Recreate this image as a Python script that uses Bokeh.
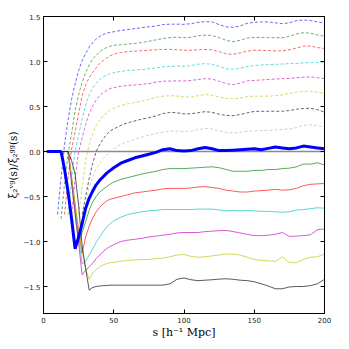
import math
from bokeh.plotting import figure
from bokeh.models import Span, LinearAxis, FixedTicker, Range1d, ColumnDataSource, CustomLabelingPolicy
from bokeh.embed import file_html
from bokeh.resources import INLINE

N = float("nan")

# separation grid s [h^-1 Mpc]
s = [2.5, 5, 7.5, 10, 12.5, 15, 17.5, 20, 22.5, 25, 27.5, 30, 32.5, 35, 37.5, 40, 42.5, 45, 47.5, 50,
     55, 60, 65, 70, 75, 80, 85, 90, 95, 100, 105, 110, 115, 120, 125, 130, 135, 140, 145, 150,
     155, 160, 165, 170, 175, 180, 185, 190, 195, 200]

# thick blue reference curve
thick_blue = [0, 0, 0, 0, 0, -0.2, -0.45, -0.75, -1.08, -0.95, -0.8, -0.63, -0.52, -0.44, -0.37, -0.32, -0.28, -0.24, -0.21, -0.18,
              -0.13, -0.1, -0.07, -0.05, -0.03, -0.01, 0.02, 0.03, 0.01, 0.005, 0.01, 0.03, 0.045, 0.03, 0.01, 0.01, 0.015, 0.02, 0.025, 0.03,
              0.02, 0.035, 0.05, 0.04, 0.03, 0.04, 0.06, 0.05, 0.04, 0.03]

# solid curves
solid_green = [0, 0, 0, 0, 0, 0, 0, -0.35, -0.7, -1.02, -0.9, -0.78, -0.65, -0.56, -0.5, -0.45, -0.42, -0.39, -0.36, -0.34,
               -0.31, -0.29, -0.27, -0.25, -0.235, -0.22, -0.2, -0.19, -0.19, -0.19, -0.185, -0.18, -0.175, -0.17, -0.18, -0.2, -0.22, -0.22, -0.22, -0.21,
               -0.21, -0.2, -0.2, -0.19, -0.185, -0.17, -0.14, -0.14, -0.125, -0.15]
solid_red = [0, 0, 0, 0, 0, 0, 0, -0.3, -0.6, -0.88, -1.13, -0.95, -0.83, -0.74, -0.67, -0.62, -0.58, -0.55, -0.53, -0.52,
             -0.5, -0.48, -0.46, -0.45, -0.44, -0.43, -0.415, -0.41, -0.41, -0.41, -0.405, -0.395, -0.39, -0.4, -0.41, -0.43, -0.44, -0.45, -0.45, -0.44,
             -0.435, -0.43, -0.42, -0.43, -0.425, -0.41, -0.38, -0.365, -0.36, -0.355]
solid_cyan = [0, 0, 0, 0, 0, 0, 0, -0.3, -0.62, -0.95, -1.25, -1.22, -1.15, -1.08, -1.01, -0.95, -0.89, -0.84, -0.8, -0.77,
              -0.73, -0.7, -0.685, -0.67, -0.66, -0.655, -0.645, -0.645, -0.645, -0.645, -0.645, -0.64, -0.64, -0.64, -0.65, -0.66, -0.655, -0.66, -0.655, -0.66,
              -0.665, -0.665, -0.67, -0.675, -0.67, -0.65, -0.645, -0.635, -0.625, -0.63]
solid_magenta = [0, 0, 0, 0, 0, 0, 0, -0.33, -0.68, -1.02, -1.37, -1.32, -1.28, -1.24, -1.19, -1.15, -1.11, -1.08, -1.055, -1.035,
                 -1.0, -0.985, -0.975, -0.965, -0.95, -0.94, -0.93, -0.92, -0.905, -0.9, -0.9, -0.9, -0.89, -0.885, -0.88, -0.877, -0.89, -0.905, -0.92, -0.935,
                 -0.935, -0.93, -0.92, -0.9, -0.944, -0.94, -0.935, -0.925, -0.87, -0.86]
solid_yellow = [0, 0, 0, 0, 0, 0, 0, -0.28, -0.58, -0.87, -1.13, -1.3, -1.42, -1.35, -1.31, -1.28, -1.26, -1.245, -1.235, -1.23,
                -1.22, -1.21, -1.205, -1.2, -1.2, -1.19, -1.185, -1.17, -1.15, -1.145, -1.165, -1.175, -1.17, -1.16, -1.15, -1.14, -1.14, -1.15, -1.175, -1.2,
                -1.21, -1.215, -1.22, -1.17, -1.235, -1.235, -1.2, -1.175, -1.17, -1.14]
solid_black = [0, 0, 0, 0, 0, 0, 0, -0.1, -0.25, -0.6, -1.05, -1.3, -1.54, -1.51, -1.5, -1.495, -1.49, -1.49, -1.485, -1.485,
               -1.485, -1.485, -1.485, -1.485, -1.485, -1.485, -1.485, -1.47, -1.42, -1.405, -1.425, -1.435, -1.43, -1.425, -1.418, -1.414, -1.42, -1.43, -1.435, -1.447,
               -1.47, -1.495, -1.525, -1.525, -1.505, -1.5, -1.5, -1.49, -1.47, -1.42]

# dashed curves
dash_blue = [N, N, N, -0.7, -0.3, 0.08, 0.35, 0.58, 0.75, 0.9, 1.01, 1.09, 1.16, 1.21, 1.25, 1.28, 1.3, 1.315, 1.325, 1.33,
             1.345, 1.355, 1.365, 1.375, 1.385, 1.395, 1.41, 1.415, 1.415, 1.413, 1.42, 1.435, 1.443, 1.44, 1.41, 1.385, 1.38, 1.395, 1.425, 1.435,
             1.44, 1.44, 1.43, 1.42, 1.43, 1.455, 1.46, 1.455, 1.44, 1.425]
dash_green = [N, N, N, N, -0.75, -0.35, -0.02, 0.2, 0.45, 0.63, 0.77, 0.88, 0.96, 1.03, 1.07, 1.11, 1.135, 1.155, 1.17, 1.18,
              1.185, 1.195, 1.2, 1.21, 1.225, 1.24, 1.255, 1.265, 1.27, 1.265, 1.27, 1.285, 1.293, 1.29, 1.265, 1.235, 1.22, 1.235, 1.26, 1.267,
              1.267, 1.265, 1.264, 1.264, 1.28, 1.305, 1.32, 1.315, 1.295, 1.28]
dash_red = [N, N, N, N, N, -0.7, -0.3, 0.03, 0.22, 0.42, 0.62, 0.74, 0.82, 0.88, 0.93, 0.98, 1.01, 1.04, 1.065, 1.08,
            1.1, 1.11, 1.115, 1.12, 1.125, 1.13, 1.135, 1.135, 1.13, 1.125, 1.125, 1.13, 1.133, 1.13, 1.11, 1.085, 1.08, 1.095, 1.115, 1.125,
            1.125, 1.12, 1.118, 1.118, 1.13, 1.15, 1.17, 1.172, 1.155, 1.144]
dash_cyan = [N, N, N, N, N, N, -0.7, -0.3, 0.0, 0.18, 0.36, 0.52, 0.63, 0.71, 0.76, 0.8, 0.83, 0.85, 0.865, 0.875,
             0.89, 0.9, 0.905, 0.91, 0.92, 0.93, 0.94, 0.945, 0.95, 0.946, 0.955, 0.97, 0.976, 0.97, 0.945, 0.92, 0.913, 0.925, 0.945, 0.955,
             0.962, 0.965, 0.968, 0.972, 0.976, 0.978, 0.985, 0.988, 0.99, 0.99]
dash_magenta = [N, N, N, N, N, N, N, -0.7, -0.3, 0.0, 0.15, 0.3, 0.42, 0.51, 0.57, 0.62, 0.655, 0.68, 0.7, 0.71,
                0.725, 0.735, 0.74, 0.745, 0.755, 0.77, 0.78, 0.783, 0.785, 0.783, 0.79, 0.8, 0.809, 0.805, 0.78, 0.755, 0.741, 0.76, 0.785, 0.79,
                0.795, 0.8, 0.805, 0.809, 0.812, 0.82, 0.826, 0.828, 0.82, 0.81]
dash_yellow = [N, N, N, N, N, N, N, N, N, -0.7, -0.4, -0.1, 0.08, 0.2, 0.29, 0.35, 0.4, 0.43, 0.46, 0.48,
               0.51, 0.53, 0.545, 0.56, 0.58, 0.6, 0.615, 0.62, 0.615, 0.605, 0.605, 0.62, 0.633, 0.625, 0.605, 0.59, 0.585, 0.595, 0.61, 0.615,
               0.615, 0.615, 0.62, 0.63, 0.645, 0.66, 0.668, 0.67, 0.66, 0.645]
dash_black = [N, N, N, N, N, N, N, N, N, N, -0.7, -0.5, -0.3, -0.13, 0.0, 0.08, 0.14, 0.19, 0.23, 0.25,
              0.29, 0.32, 0.34, 0.36, 0.375, 0.395, 0.42, 0.435, 0.43, 0.418, 0.42, 0.43, 0.443, 0.435, 0.415, 0.4, 0.398, 0.41, 0.43, 0.445,
              0.447, 0.447, 0.447, 0.447, 0.455, 0.47, 0.478, 0.48, 0.465, 0.436]
dash_grey = [N, N, N, N, N, N, N, N, N, N, N, -0.6, -0.4, -0.28, -0.19, -0.13, -0.08, -0.04, 0.0, 0.03,
             0.08, 0.11, 0.135, 0.16, 0.18, 0.2, 0.215, 0.225, 0.228, 0.222, 0.225, 0.245, 0.257, 0.25, 0.23, 0.212, 0.205, 0.215, 0.225, 0.23,
             0.232, 0.235, 0.24, 0.245, 0.25, 0.265, 0.29, 0.297, 0.285, 0.273]

x_ticks = [0, 50, 100, 150, 200]
x_tick_labels = ["0", "50", "100", "150", "200"]
y_ticks = [-1.5, -1.0, -0.5, 0.0, 0.5, 1.0, 1.5]
y_tick_labels = ["\u22121.5", "\u22121.0", "\u22120.5", "0.0", "0.5", "1.0", "1.5"]

src = ColumnDataSource(dict(
    s=s, thick_blue=thick_blue,
    solid_green=solid_green, solid_red=solid_red, solid_cyan=solid_cyan,
    solid_magenta=solid_magenta, solid_yellow=solid_yellow, solid_black=solid_black,
    dash_blue=dash_blue, dash_green=dash_green, dash_red=dash_red, dash_cyan=dash_cyan,
    dash_magenta=dash_magenta, dash_yellow=dash_yellow, dash_black=dash_black, dash_grey=dash_grey,
))

p = figure(width=349, height=349, x_range=Range1d(0, 200), y_range=Range1d(-1.8, 1.5),
           output_backend="svg", toolbar_location=None,
           min_border_left=43, min_border_right=18, min_border_top=16, min_border_bottom=36)
p.xgrid.visible = False
p.ygrid.visible = False
p.outline_line_color = "black"
p.outline_line_width = 1
p.background_fill_color = "white"
p.border_fill_color = "white"

zero = Span(location=0, dimension="width", line_color="#8c8c8c", line_width=1.6, level="underlay")
p.add_layout(zero)

dashed = [("dash_blue", "#0000ff"), ("dash_green", "#008000"), ("dash_red", "#ff0000"),
          ("dash_cyan", "#00bfbf"), ("dash_magenta", "#bf00bf"), ("dash_yellow", "#bfbf00"),
          ("dash_black", "#000000"), ("dash_grey", "#b0b0b0")]
for name, col in dashed:
    p.line("s", name, source=src, line_color=col, line_alpha=0.6, line_width=1.0, line_dash="3 2")

solids = [("solid_green", "#008000"), ("solid_red", "#ff0000"), ("solid_cyan", "#00bfbf"),
          ("solid_magenta", "#bf00bf"), ("solid_yellow", "#bfbf00"), ("solid_black", "#000000")]
for name, col in solids:
    p.line("s", name, source=src, line_color=col, line_alpha=0.65, line_width=1.0)

p.line("s", "thick_blue", source=src, line_color="#0000ff", line_width=3.0)

def style_axis(ax, ticks, labels=None, show=True):
    ax.ticker = FixedTicker(ticks=ticks)
    ax.major_tick_in = 4
    ax.major_tick_out = 0
    ax.minor_tick_line_color = None
    ax.major_tick_line_color = "black"
    ax.axis_line_color = "black"
    if show:
        ax.major_label_overrides = {float(t): l for t, l in zip(ticks, labels)}
        ax.major_label_text_font = "DejaVu Sans"
        ax.major_label_text_font_size = "7px"
        ax.major_label_text_color = "#222222"
        ax.major_label_standoff = 3
    else:
        ax.major_label_policy = CustomLabelingPolicy(code="return []")
        ax.major_label_standoff = 0

xa = p.xaxis[0]
ya = p.yaxis[0]
style_axis(xa, x_ticks, x_tick_labels)
style_axis(ya, y_ticks, y_tick_labels)
xa.axis_label = "s [h\u207b\u00b9 Mpc]"
ya.axis_label = "\u03be\u2082\u1d5b\u1d4d(s)/\u03be\u2082\u1d4d\u1d4d(s)"
for ax in (xa, ya):
    ax.axis_label_text_font = "DejaVu Serif"
    ax.axis_label_text_font_style = "normal"
    ax.axis_label_text_color = "black"
xa.axis_label_text_font_size = "11px"
ya.axis_label_text_font_size = "10.5px"
xa.axis_label_standoff = 0
ya.axis_label_standoff = 2

top = LinearAxis()
style_axis(top, x_ticks, show=False)
p.add_layout(top, "above")
right = LinearAxis()
style_axis(right, y_ticks, show=False)
p.add_layout(right, "right")

open("out.html", "w").write(file_html(p, INLINE))
